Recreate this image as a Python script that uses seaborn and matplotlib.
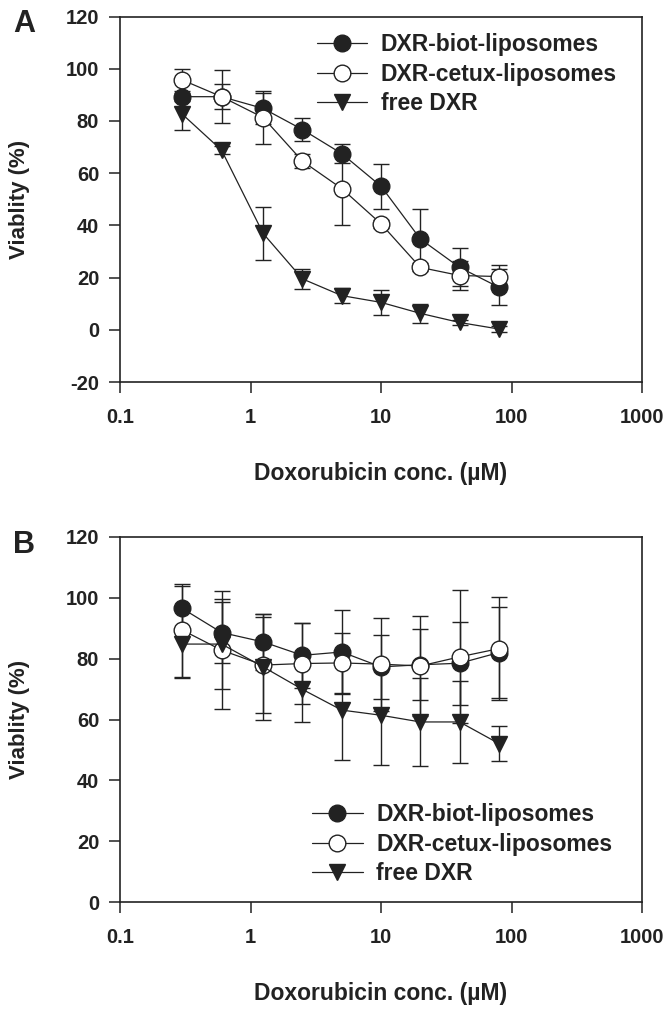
import numpy as np
import pandas as pd
import seaborn as sns
import matplotlib.pyplot as plt

# Doxorubicin concentrations (uM)
conc = [0.3, 0.6, 1.25, 2.5, 5, 10, 20, 40, 80]
series = ["DXR-biot-liposomes", "DXR-cetux-liposomes", "free DXR"]

# Panel A values (%)
a_biot = [89.3, 89.3, 84.8, 76.7, 67.5, 55.0, 34.8, 23.9, 16.3]
a_biot_err = [1.5, 4.8, 6.0, 4.3, 3.6, 8.7, 11.6, 7.3, 6.8]
a_cetux = [95.7, 89.3, 81.3, 64.6, 54.1, 40.6, 23.9, 20.8, 20.4]
a_cetux_err = [4.1, 10.2, 10.0, 2.7, 14.1, 1.5, 1.5, 5.5, 4.5]
a_free = [82.6, 68.8, 36.9, 19.5, 13.1, 10.5, 6.3, 2.8, 0.3]
a_free_err = [6.0, 1.5, 10.0, 3.7, 2.9, 4.7, 3.7, 1.0, 1.0]

# Panel B values (%)
b_biot = [96.5, 88.6, 85.5, 81.1, 82.2, 77.3, 78.0, 78.5, 82.0]
b_biot_err = [7.3, 9.9, 9.1, 10.7, 13.7, 10.4, 11.6, 13.6, 15.0]
b_cetux = [89.4, 82.8, 77.9, 78.4, 78.6, 78.2, 77.6, 80.6, 83.3]
b_cetux_err = [15.3, 19.5, 15.8, 13.4, 9.8, 15.3, 16.4, 21.9, 17.0]
b_free = [84.8, 84.8, 77.3, 69.9, 63.1, 61.4, 59.2, 59.2, 52.1]
b_free_err = [11.3, 14.9, 17.5, 10.7, 16.5, 16.4, 14.4, 13.6, 5.8]

xticks = [0.1, 1, 10, 100, 1000]
xtick_labels = ["0.1", "1", "10", "100", "1000"]

sns.set_style("ticks")
plt.rcParams["font.family"] = ["Liberation Sans", "DejaVu Sans"]
plt.rcParams["font.weight"] = "bold"
plt.rcParams["axes.unicode_minus"] = False

ink = "#222222"
styles = {
    "DXR-biot-liposomes": dict(marker="o", markerfacecolor=ink),
    "DXR-cetux-liposomes": dict(marker="o", markerfacecolor="white"),
    "free DXR": dict(marker="v", markerfacecolor=ink),
}


def draw_panel(ax, vals, errs, ylim, yticks, legend_pos, letter):
    ax.set_xscale("log")
    for name, v, e in zip(series, vals, errs):
        ax.errorbar(conc, v, yerr=e, fmt="none", ecolor=ink, elinewidth=1.0,
                    capsize=5.5, capthick=1.0, zorder=1)
    for name, v in zip(series, vals):
        df = pd.DataFrame({"conc": conc, "viab": v})
        sns.lineplot(data=df, x="conc", y="viab", ax=ax, color=ink, lw=0.9,
                     markersize=12, markeredgecolor=ink, markeredgewidth=1.0,
                     label=name, errorbar=None, zorder=3, **styles[name])
    ax.set_xlim(0.1, 1000)
    ax.set_ylim(*ylim)
    ax.set_xticks(xticks)
    ax.set_xticklabels(xtick_labels)
    ax.xaxis.set_minor_locator(plt.NullLocator())
    ax.set_yticks(yticks)
    for s in ax.spines.values():
        s.set_visible(True)
        s.set_linewidth(1.2)
        s.set_color(ink)
    ax.tick_params(axis="both", direction="out", length=8, width=1.1, color=ink,
                   labelsize=14.5, labelcolor=ink)
    ax.tick_params(axis="x", pad=11)
    ax.tick_params(axis="y", pad=7)
    ax.set_xlabel("Doxorubicin conc. (µM)", fontsize=16.5, fontweight="bold", color=ink)
    ax.set_ylabel("Viablity (%)", fontsize=16, fontweight="bold", color=ink)
    ax.xaxis.set_label_coords(0.5, -0.218)
    ax.yaxis.set_label_coords(-0.172, 0.5)
    leg = ax.legend(loc="upper left", bbox_to_anchor=legend_pos, frameon=False,
                    fontsize=16.5, handlelength=2.2, handletextpad=0.6,
                    labelspacing=0.29, borderpad=0, borderaxespad=0)
    for t in leg.get_texts():
        t.set_color(ink)
        t.set_fontweight("bold")
    ax.text(-0.205, 1.02, letter, transform=ax.transAxes, fontsize=22,
            fontweight="bold", color=ink, ha="left", va="top")


fig = plt.figure(figsize=(6.72, 10.09), dpi=100)
ax_a = fig.add_axes([0.1786, 0.6214, 0.7768, 0.3622])
ax_b = fig.add_axes([0.1786, 0.1060, 0.7768, 0.3618])

draw_panel(ax_a, [a_biot, a_cetux, a_free], [a_biot_err, a_cetux_err, a_free_err],
           (-20, 120), np.arange(-20, 121, 20), (0.377, 0.955), "A")
draw_panel(ax_b, [b_biot, b_cetux, b_free], [b_biot_err, b_cetux_err, b_free_err],
           (0, 120), np.arange(0, 121, 20), (0.368, 0.271), "B")

fig.savefig("out.png", dpi=100, facecolor="white")
